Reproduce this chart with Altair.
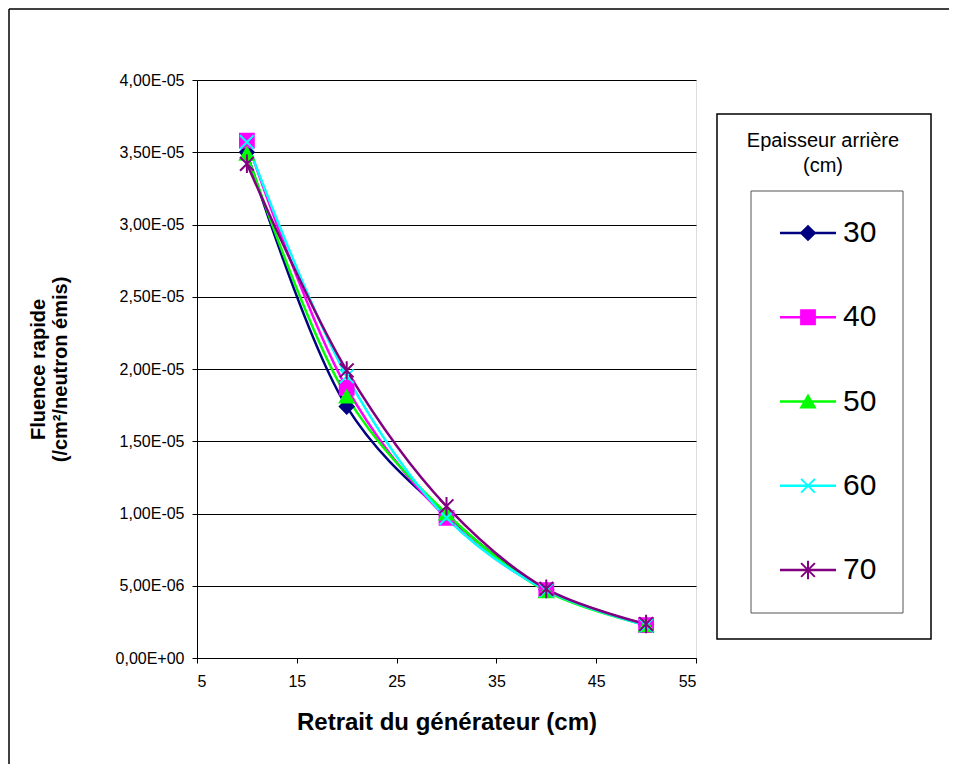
import altair as alt
import pandas as pd

# ---- data ----
retrait = [10, 20, 30, 40, 50]
series = ["30", "40", "50", "60", "70"]
f30 = [3.50e-5, 1.74e-5, 0.99e-5, 4.72e-6, 2.30e-6]
f40 = [3.58e-5, 1.87e-5, 0.97e-5, 4.70e-6, 2.28e-6]
f50 = [3.49e-5, 1.81e-5, 1.00e-5, 4.62e-6, 2.27e-6]
f60 = [3.57e-5, 1.95e-5, 0.97e-5, 4.70e-6, 2.25e-6]
f70 = [3.42e-5, 1.99e-5, 1.05e-5, 4.78e-6, 2.35e-6]

ytick_values = [0, 5e-6, 1e-5, 1.5e-5, 2e-5, 2.5e-5, 3e-5, 3.5e-5, 4e-5]
ytick_labels = ["0,00E+00", "5,00E-06", "1,00E-05", "1,50E-05", "2,00E-05",
                "2,50E-05", "3,00E-05", "3,50E-05", "4,00E-05"]
xtick_values = [5, 15, 25, 35, 45, 55]

colors = ["#000080", "#FF00FF", "#00FF00", "#00FFFF", "#800080"]
shapes = ["diamond", "square", "triangle-up",
          "M-1,-1L1,1M-1,1L1,-1",
          "M-1,-1L1,1M-1,1L1,-1M0,-1.35L0,1.35"]

FONT = "Liberation Sans"

rows = []
for i, (s, vals) in enumerate(zip(series, [f30, f40, f50, f60, f70])):
    for x, v in zip(retrait, vals):
        rows.append({"series": s, "idx": i, "retrait": x, "fluence": v})
df = pd.DataFrame(rows)
leg_df = pd.DataFrame({"series": series, "idx": list(range(len(series)))})
one = pd.DataFrame({"a": [0]})

W, H = 499, 578

color_scale = alt.Scale(domain=series, range=colors)
shape_scale = alt.Scale(domain=series, range=shapes)
label_expr = "[" + ",".join("'%s'" % l for l in ytick_labels) + "][round(datum.value / 5e-6)]"

xenc = alt.X("retrait:Q", scale=alt.Scale(domain=[5, 55], nice=False),
             axis=alt.Axis(values=xtick_values, title="Retrait du générateur (cm)",
                           grid=False, labelFontSize=16, titleFontSize=24,
                           titleFontWeight="bold", labelPadding=10, titlePadding=21,
                           tickSize=5, tickColor="#000", domainColor="#000",
                           labelColor="#000", titleColor="#000", labelFont=FONT, titleFont=FONT))
yscale = alt.Scale(domain=[0, 4e-5], nice=False)

lines = alt.Chart(df).mark_line(interpolate="catmull-rom", strokeWidth=2.5).encode(
    x=xenc,
    y=alt.Y("fluence:Q", scale=yscale,
            axis=alt.Axis(values=ytick_values, labelExpr=label_expr,
                          title=["Fluence rapide", "(/cm²/neutron émis)"],
                          grid=True, gridColor="#000", gridWidth=1,
                          labelFontSize=16, titleFontSize=20, titleFontWeight="bold",
                          titleLineHeight=22,
                          labelPadding=8, titlePadding=45, tickSize=5, tickColor="#000",
                          domainColor="#000", labelColor="#000", titleColor="#000",
                          labelFont=FONT, titleFont=FONT)),
    color=alt.Color("series:N", scale=color_scale, legend=None),
    detail="series:N",
    order=alt.Order("retrait:Q"),
)

points = alt.Chart(df).mark_point(filled=True, size=190, strokeWidth=2, opacity=1).encode(
    x="retrait:Q",
    y=alt.Y("fluence:Q", scale=yscale, axis=None),
    color=alt.Color("series:N", scale=color_scale, legend=None),
    stroke=alt.Stroke("series:N", scale=color_scale, legend=None),
    shape=alt.Shape("series:N", scale=shape_scale, legend=None),
    order=alt.Order("idx:Q"),
)

# ---- legend drawn as layers ----
outer_box = alt.Chart(one).mark_rect(fill="white", stroke="#000", strokeWidth=1.5).encode(
    x=alt.value(520), x2=alt.value(734), y=alt.value(34), y2=alt.value(559))
inner_box = alt.Chart(one).mark_rect(fill="white", stroke="#555", strokeWidth=1).encode(
    x=alt.value(554), x2=alt.value(706), y=alt.value(111), y2=alt.value(533))
leg_title = alt.Chart(one).mark_text(text=["Epaisseur arrière", "(cm)"], font=FONT,
                                     fontSize=20, lineHeight=25, align="center",
                                     baseline="middle", color="#000").encode(
    x=alt.value(626), y=alt.value(60.5))

leg_y = alt.Y("series:N", scale=alt.Scale(type="point", domain=series, range=[153, 490], padding=0),
              axis=None)
leg_lines = alt.Chart(leg_df).mark_rule(strokeWidth=2.5).encode(
    x=alt.value(583), x2=alt.value(639), y=leg_y,
    color=alt.Color("series:N", scale=color_scale, legend=None))
leg_pts = alt.Chart(leg_df).mark_point(filled=True, size=190, strokeWidth=2, opacity=1).encode(
    x=alt.value(611), y=leg_y,
    color=alt.Color("series:N", scale=color_scale, legend=None),
    stroke=alt.Stroke("series:N", scale=color_scale, legend=None),
    shape=alt.Shape("series:N", scale=shape_scale, legend=None))
leg_text = alt.Chart(leg_df).mark_text(font=FONT, fontSize=30, align="left",
                                       baseline="middle", color="#000").encode(
    x=alt.value(646), y=leg_y, text="series:N")

# ---- outer frame (left and top edges visible in the reference) ----
frame_top = alt.Chart(one).mark_rule(color="#000", strokeWidth=1.5).encode(
    x=alt.value(-188), x2=alt.value(752), y=alt.value(-71))
frame_left = alt.Chart(one).mark_rule(color="#000", strokeWidth=1.5).encode(
    x=alt.value(-188), y=alt.value(-71), y2=alt.value(684))

chart = alt.layer(
    frame_top, frame_left, lines, points,
    outer_box, inner_box, leg_title, leg_lines, leg_pts, leg_text
).resolve_scale(y="independent").properties(
    width=W, height=H, padding=0
).configure_view(stroke="#808080", strokeWidth=2).configure(background="white")

chart.save("out.html", embed_options={"renderer": "svg", "actions": False})
